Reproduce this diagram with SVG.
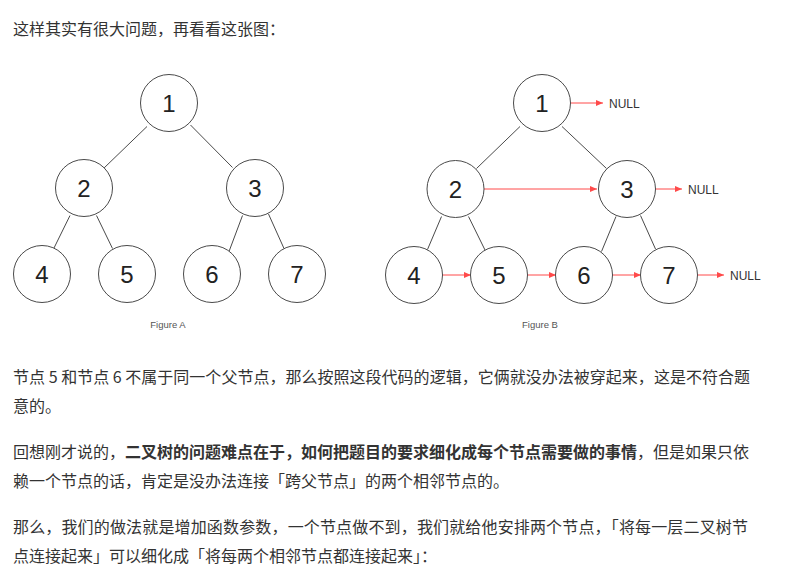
<svg xmlns="http://www.w3.org/2000/svg" width="785" height="579" viewBox="0 0 785 579">
  <style>
    .para { font-family: "Noto Sans CJK SC", "Microsoft YaHei", sans-serif; font-size: 16px; fill: #333333; }
    .b { font-weight: 700; }
    .node circle { fill: #ffffff; stroke: #4a4a4a; stroke-width: 1; }
    .node text { font-family: "Liberation Sans", Arial, sans-serif; font-size: 24px; fill: #222222; text-anchor: middle; }
    .edge { stroke: #4a4a4a; stroke-width: 1; fill: none; }
    .next { stroke: #ff4a4a; stroke-width: 1; fill: none; marker-end: url(#arrow); }
    .null { font-family: "Liberation Sans", Arial, sans-serif; font-size: 12px; fill: #333333; }
    .cap { font-family: "Liberation Sans", Arial, sans-serif; font-size: 9.5px; fill: #555555; text-anchor: middle; }
  </style>
  <defs>
    <marker id="arrow" markerUnits="userSpaceOnUse" markerWidth="8" markerHeight="6" refX="7" refY="3" orient="auto">
      <path d="M0,0 L7,3 L0,6 z" fill="#ff4a4a"/>
    </marker>
  </defs>
  <rect width="785" height="579" fill="#ffffff"/>

  <!-- intro line -->
  <text class="para" x="13" y="35">这样其实有很大问题，再看看这张图：</text>

  <!-- tree A / tree B edges and next pointers -->
  <g id="connectors">
    <line class="edge" x1="147" y1="126.5" x2="103.5" y2="168.5"/>
    <line class="edge" x1="190.5" y1="125" x2="232.5" y2="167.5"/>
    <line class="edge" x1="70" y1="215.5" x2="54" y2="248"/>
    <line class="edge" x1="96.5" y1="215.5" x2="112.5" y2="248.5"/>
    <line class="edge" x1="242.5" y1="215.5" x2="229" y2="251.5"/>
    <line class="edge" x1="268.5" y1="214" x2="284" y2="248.5"/>

    <line class="edge" x1="520" y1="126.5" x2="476.5" y2="168.5"/>
    <line class="edge" x1="562" y1="126.5" x2="606.5" y2="168.5"/>
    <line class="edge" x1="441.5" y1="216.5" x2="427.5" y2="249.5"/>
    <line class="edge" x1="468.5" y1="216.5" x2="485" y2="250"/>
    <line class="edge" x1="616" y1="216.5" x2="601.5" y2="251.5"/>
    <line class="edge" x1="640.5" y1="215.5" x2="655.5" y2="249"/>

    <line class="next" x1="570.5" y1="103" x2="603" y2="103"/>
    <line class="next" x1="484" y1="189" x2="597" y2="189"/>
    <line class="next" x1="655.5" y1="189" x2="682" y2="189"/>
    <line class="next" x1="442.5" y1="275" x2="471" y2="275"/>
    <line class="next" x1="527.5" y1="275" x2="556" y2="275"/>
    <line class="next" x1="612.5" y1="275" x2="641" y2="275"/>
    <line class="next" x1="697.5" y1="275" x2="724" y2="275"/>
  </g>

  <!-- Figure A nodes -->
  <g id="a1" class="node"><circle cx="169" cy="103" r="28.5"/><text x="169" y="111.5">1</text></g>
  <g id="a2" class="node"><circle cx="84" cy="188" r="28.5"/><text x="84" y="196.5">2</text></g>
  <g id="a3" class="node"><circle cx="255" cy="188" r="28.5"/><text x="255" y="196.5">3</text></g>
  <g id="a4" class="node"><circle cx="42" cy="274" r="28.5"/><text x="42" y="282.5">4</text></g>
  <g id="a5" class="node"><circle cx="127" cy="274" r="28.5"/><text x="127" y="282.5">5</text></g>
  <g id="a6" class="node"><circle cx="212" cy="274" r="28.5"/><text x="212" y="282.5">6</text></g>
  <g id="a7" class="node"><circle cx="297" cy="274" r="28.5"/><text x="297" y="282.5">7</text></g>
  <text class="cap" x="168" y="328">Figure A</text>

  <!-- Figure B nodes -->
  <g id="b1" class="node"><circle cx="542" cy="103" r="28.5"/><text x="542" y="111.5">1</text></g>
  <g id="b2" class="node"><circle cx="455.5" cy="189" r="28.5"/><text x="455.5" y="197.5">2</text></g>
  <g id="b3" class="node"><circle cx="627" cy="189" r="28.5"/><text x="627" y="197.5">3</text></g>
  <g id="b4" class="node"><circle cx="414" cy="275" r="28.5"/><text x="414" y="283.5">4</text></g>
  <g id="b5" class="node"><circle cx="499" cy="275" r="28.5"/><text x="499" y="283.5">5</text></g>
  <g id="b6" class="node"><circle cx="584" cy="275" r="28.5"/><text x="584" y="283.5">6</text></g>
  <g id="b7" class="node"><circle cx="669" cy="275" r="28.5"/><text x="669" y="283.5">7</text></g>
  <g id="null1"><text class="null" x="609" y="107.5">NULL</text></g>
  <g id="null2"><text class="null" x="688" y="193.5">NULL</text></g>
  <g id="null3"><text class="null" x="730" y="279.5">NULL</text></g>
  <text class="cap" x="540" y="328">Figure B</text>

  <!-- body paragraphs -->
  <text class="para" x="13" y="383" textLength="737" lengthAdjust="spacing">节点 5 和节点 6 不属于同一个父节点，那么按照这段代码的逻辑，它俩就没办法被穿起来，这是不符合题</text>
  <text class="para" x="13" y="412">意的。</text>

  <text class="para" x="13" y="458" textLength="736" lengthAdjust="spacing">回想刚才说的，<tspan class="b">二叉树的问题难点在于，如何把题目的要求细化成每个节点需要做的事情</tspan>，但是如果只依</text>
  <text class="para" x="13" y="487">赖一个节点的话，肯定是没办法连接「跨父节点」的两个相邻节点的。</text>

  <text class="para" x="13" y="533" textLength="735" lengthAdjust="spacing">那么，我们的做法就是增加函数参数，一个节点做不到，我们就给他安排两个节点，「将每一层二叉树节</text>
  <text class="para" x="13" y="562">点连接起来」可以细化成「将每两个相邻节点都连接起来」：</text>
</svg>
